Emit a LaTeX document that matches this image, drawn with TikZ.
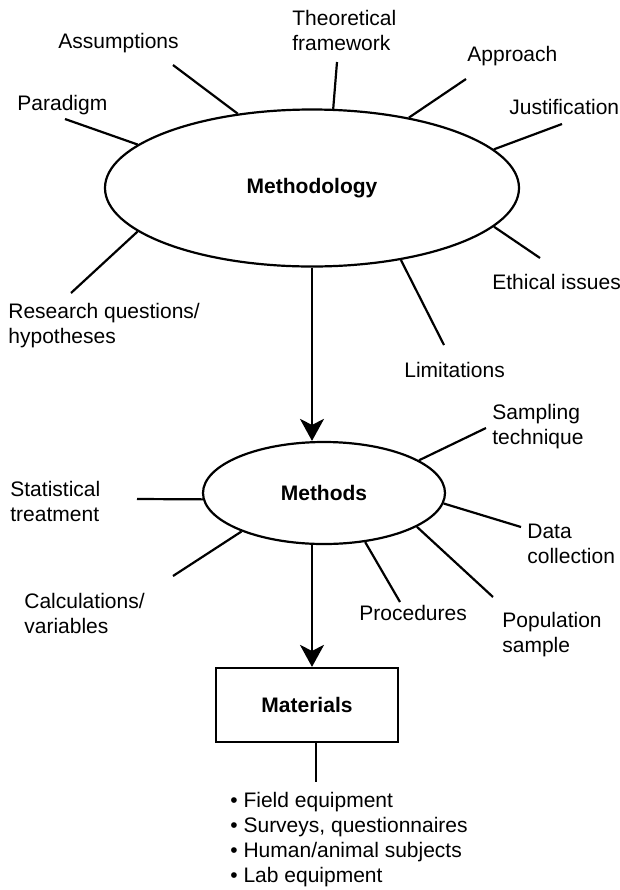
\documentclass[tikz,border=0pt]{standalone}
\usepackage{fontspec}
\setmainfont{Liberation Sans}
\usetikzlibrary{shapes.geometric,arrows.meta}

\begin{document}
\begin{tikzpicture}
[x=0.5pt,y=-0.5pt,
spoke/.style={line width=1.1pt},
arr/.style={line width=1.1pt,-{Stealth[length=11pt,width=12pt,inset=3pt]}},
lbl/.style={inner sep=0pt,anchor=west,align=left}
]
\tikzset{every node/.style={font=\fontsize{10.5}{12.5}\selectfont}}
%\tikzset{every node/.style={font=\sffamily\small}}
\useasboundingbox (0,0) rectangle (620,890);

\node[ellipse,draw,line width=1.1pt,minimum width=207pt,minimum height=78.5pt] (mlgy) at (312,188) {\textbf{Methodology}};
\node[ellipse,draw,line width=1.1pt,minimum width=121pt,minimum height=51pt] (mthd) at (324,493) {\textbf{Methods}};
\node[rectangle,draw,line width=1.1pt,minimum width=91pt,minimum height=37pt] (matl) at (307,705) {\textbf{Materials}};

\node[lbl] (pdgm) at (17,105) {Paradigm};
\node[lbl] (asmp) at (58,43) {Assumptions};
\node[lbl] (thry) at (292,30.5) {Theoretical\\framework};
\node[lbl] (aprc) at (467,56) {Approach};
\node[lbl] (just) at (509,107) {Justification};
\node[lbl] (eth) at (492,282) {Ethical issues};
\node[lbl] (rq) at (8,325.5) {Research questions/\\hypotheses};
\node[lbl] (lim) at (404,370) {Limitations};

\node[lbl] (smp) at (492,426.5) {Sampling\\technique};
\node[lbl] (stat) at (10,501) {Statistical\\treatment};
\node[lbl] (data) at (527,543.5) {Data\\collection};
\node[lbl] (calc) at (24,613) {Calculations/\\variables};
\node[lbl] (proc) at (359,613) {Procedures};
\node[lbl] (pop) at (502,634.5) {Population\\sample};

\node[lbl] (list) at (230,840) {\textbullet\ Field equipment\\\textbullet\ Surveys, questionnaires\\\textbullet\ Human/animal subjects\\\textbullet\ Lab equipment};

\coordinate (e-pdgm) at (65,119);
\coordinate (e-asmp) at (173,65);
\coordinate (e-thry) at (337,62);
\coordinate (e-aprc) at (466,79);
\coordinate (e-just) at (562,124);
\coordinate (e-eth) at (540,258);
\coordinate (e-lim) at (444,345);
\coordinate (e-rq) at (71,293);
\coordinate (e-smp) at (486,428);
\coordinate (e-stat) at (137,499);
\coordinate (e-data) at (521,527);
\coordinate (e-calc) at (173,576);
\coordinate (e-proc) at (400,602);
\coordinate (e-pop) at (493,597);
\coordinate (e-list) at (316,782);

\draw[spoke] (mlgy.166.4) -- (e-pdgm);
\draw[spoke] (mlgy.135.8) -- (e-asmp);
\draw[spoke] (mlgy.75.3) -- (e-thry);
\draw[spoke] (mlgy.36.7) -- (e-aprc);
\draw[spoke] (mlgy.12.9) -- (e-just);
\draw[spoke] (mlgy.-12.6) -- (e-eth);
\draw[spoke] (mlgy.-39.5) -- (e-lim);
\draw[spoke] (mlgy.194.3) -- (e-rq);

\draw[spoke] (mthd.19.3) -- (e-smp);
\draw[spoke] (mthd.183) -- (e-stat);
\draw[spoke] (mthd.-5.8) -- (e-data);
\draw[spoke] (mthd.205.2) -- (e-calc);
\draw[spoke] (mthd.-50.6) -- (e-proc);
\draw[spoke] (mthd.-20.6) -- (e-pop);

\draw[arr] (mlgy.south) -- (mlgy.south |- mthd.north);
\draw[arr] (mthd.south -| mlgy.south) -- (mlgy.south |- matl.north);
\draw[spoke] (matl.south -| e-list) -- (e-list);
\end{tikzpicture}
\end{document}
